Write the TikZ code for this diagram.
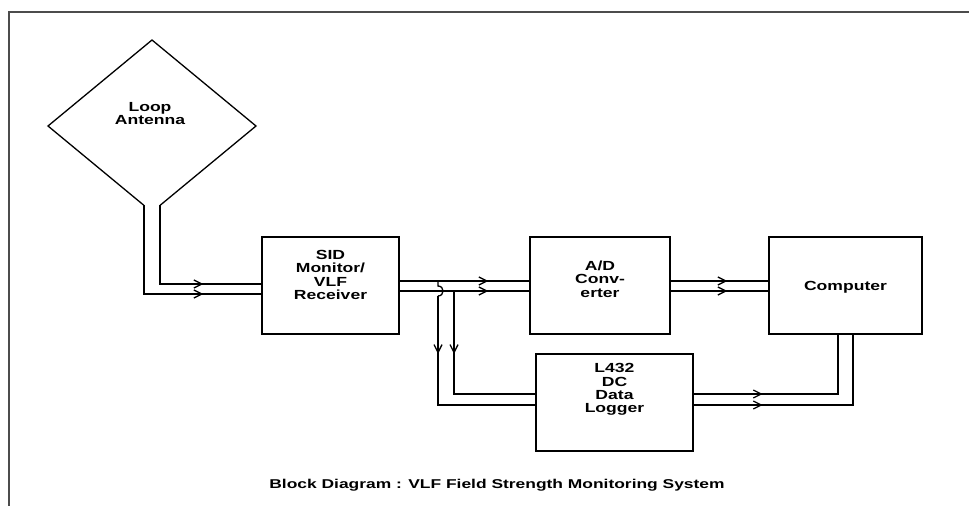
\documentclass[tikz,border=0pt]{standalone}
\usepackage{fontspec}
\newfontfamily\boxfont{Liberation Sans}[FakeStretch=1.33]
\newfontfamily\capfont{Liberation Sans}[FakeStretch=1.36]
\usetikzlibrary{arrows.meta,decorations.markings,calc}
\tikzset{
  wire/.style={line width=1.3pt, draw=black},
  blockbox/.style={draw=black, line width=1.4pt, inner sep=0pt, minimum width=#1},
  lbl/.style={font=\boxfont\bfseries\fontsize{13.2}{13.3}\selectfont, align=center, inner sep=0pt, text=black},
  chev/.style={postaction={decorate, decoration={markings,
     mark=at position #1 with {\arrow{Straight Barb[length=8pt,width=8pt,line width=1.3pt]}}}}},
  frameline/.style={line width=2pt, draw=black!70},
}
\begin{document}
\begin{tikzpicture}[x=1pt,y=-1pt]
\useasboundingbox (0,0) rectangle (969,506);
\fill[white] (0,0) rectangle (969,506);
% frame (open to the right and bottom)
\draw[frameline] (969,12) -- (9,12) -- (9,506);

% loop antenna
\node[lbl] (ant) at (150,113.5) {Loop\\Antenna};
\coordinate (dtop) at (152,40);
\coordinate (dl) at (48,126);
\coordinate (dr) at (256,126);
\coordinate (al) at (144,205.4);
\coordinate (ar) at (160,205.4);
\draw[wire] (al) -- (dl) -- (dtop) -- (dr) -- (ar);

% blocks
\node[blockbox=137pt, minimum height=97pt,
      label={[lbl,yshift=10.5pt]center:{SID\\Monitor/\\VLF\\Receiver}}] (sid) at (330.5,285.5) {};
\node[blockbox=140pt, minimum height=97pt,
      label={[lbl,yshift=6.5pt]center:{A/D\\Conv-\\erter}}] (ad) at (600,285.5) {};
\node[blockbox=153pt, minimum height=97pt,
      label={[lbl,yshift=-1.5pt]center:{Computer}}] (comp) at (845.5,285.5) {};
\node[blockbox=157pt, minimum height=97pt,
      label={[lbl,yshift=13pt]center:{L432\\DC\\Data\\Logger}}] (lg) at (614.5,402.5) {};

% level helpers
\coordinate (y284) at (0,284);
\coordinate (y294) at (0,294);
\coordinate (y281) at (0,281);
\coordinate (y291) at (0,291);
\coordinate (y394) at (0,394);
\coordinate (y405) at (0,405);

% antenna -> SID
\draw[wire, chev=-58pt] (ar) |- (sid.west |- y284);
\draw[wire, chev=-58pt] (al) |- (sid.west |- y294);

% SID -> A/D
\draw[wire, chev=-41pt] (sid.east |- y281) -- (ad.west |- y281);
\draw[wire, chev=-41pt] (sid.east |- y291) -- (ad.west |- y291);

% A/D -> Computer
\draw[wire, chev=-41pt] (ad.east |- y281) -- (comp.west |- y281);
\draw[wire, chev=-41pt] (ad.east |- y291) -- (comp.west |- y291);

% branches to logger
\coordinate (br1) at (438,281);
\coordinate (hop) at (438,296);
\coordinate (br2) at (454,291);
\draw[wire] (br1) -- (438,286) .. controls (444.7,286) and (444.7,296) .. (hop);
\draw[wire, chev=58pt] (hop) |- (lg.west |- y405);
\draw[wire, chev=63pt] (br2) |- (lg.west |- y394);

% logger -> computer
\coordinate (cv1) at (838,334);
\coordinate (cv2) at (853,334);
\draw[wire, chev=69pt] (lg.east |- y394) -| (cv1);
\draw[wire, chev=69pt] (lg.east |- y405) -| (cv2);

% caption
\node[font=\capfont\bfseries\fontsize{12.8}{13}\selectfont, inner sep=0pt, text=black] (cap) at (497,485)
  {Block Diagram : VLF Field Strength Monitoring System};
\end{tikzpicture}
\end{document}
